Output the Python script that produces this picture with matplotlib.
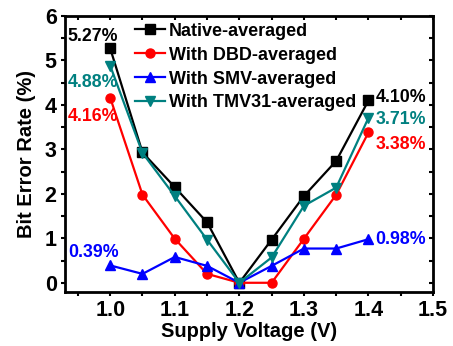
import matplotlib
matplotlib.use("Agg")
import matplotlib.pyplot as plt
from matplotlib.ticker import MultipleLocator

plt.rcParams['font.family'] = ['Liberation Sans', 'DejaVu Sans']
plt.rcParams['font.weight'] = 'bold'

voltage = [1.0, 1.05, 1.1, 1.15, 1.2, 1.25, 1.3, 1.35, 1.4]
native = [5.27, 2.93, 2.15, 1.36, 0.0, 0.97, 1.95, 2.74, 4.10]
dbd = [4.16, 1.98, 0.99, 0.20, 0.0, 0.0, 0.99, 1.98, 3.38]
smv = [0.39, 0.20, 0.58, 0.38, 0.0, 0.38, 0.77, 0.77, 0.98]
tmv = [4.88, 2.92, 1.95, 0.97, 0.0, 0.57, 1.73, 2.14, 3.71]
labels = ["Native-averaged", "With DBD-averaged", "With SMV-averaged", "With TMV31-averaged"]
colors = ["black", "#ff0000", "#0000ff", "#008080"]
markers = ["s", "o", "^", "v"]

fig = plt.figure(figsize=(4.53, 3.46), dpi=100)
ax = fig.add_axes([0.1435, 0.157, 0.956 - 0.1435, 0.954 - 0.157])

for ys, lab, c, m in zip([native, dbd, smv, tmv], labels, colors, markers):
    ax.plot(voltage, ys, color=c, marker=m, markersize=6.5, linewidth=1.6, label=lab)

ax.set_xlim(0.93, 1.5)
ax.set_ylim(-0.2, 6)
ax.xaxis.set_minor_locator(MultipleLocator(0.05))
ax.yaxis.set_major_locator(MultipleLocator(1))
ax.yaxis.set_minor_locator(MultipleLocator(0.5))
ax.set_xticks([1.0, 1.1, 1.2, 1.3, 1.4, 1.5])
ax.set_xticklabels(["1.0", "1.1", "1.2", "1.3", "1.4", "1.5"])
ax.tick_params(which='both', direction='out', length=3, width=1.5, labelsize=15.5, pad=3)
for s in ax.spines.values():
    s.set_linewidth(2)

ax2 = ax.secondary_xaxis('top')
ax2.set_xticks([1.0, 1.1, 1.2, 1.3, 1.4, 1.5])
ax2.xaxis.set_minor_locator(MultipleLocator(0.05))
ax2.tick_params(which='both', direction='in', length=3, width=1.5, labeltop=False)
ax3 = ax.secondary_yaxis('right')
ax3.yaxis.set_major_locator(MultipleLocator(1))
ax3.yaxis.set_minor_locator(MultipleLocator(0.5))
ax3.tick_params(which='both', direction='in', length=3, width=1.5, labelright=False)

ax.set_xlabel("Supply Voltage (V)", fontsize=14.5, fontweight='bold', labelpad=1)
ax.set_ylabel("Bit Error Rate (%)", fontsize=14.5, fontweight='bold', labelpad=6)

fs = 12.8
xl, xr = 0.9345, 1.411
ax.text(xl, 5.54, "5.27%", color="black", fontsize=fs, fontweight='bold', ha='left', va='center')
ax.text(xl, 4.50, "4.88%", color="#008080", fontsize=fs, fontweight='bold', ha='left', va='center')
ax.text(xl, 3.74, "4.16%", color="#ff0000", fontsize=fs, fontweight='bold', ha='left', va='center')
ax.text(xl, 0.68, "0.39%", color="#0000ff", fontsize=fs, fontweight='bold', ha='left', va='center')
ax.text(xr, 4.17, "4.10%", color="black", fontsize=fs, fontweight='bold', ha='left', va='center')
ax.text(xr, 3.67, "3.71%", color="#008080", fontsize=fs, fontweight='bold', ha='left', va='center')
ax.text(xr, 3.10, "3.38%", color="#ff0000", fontsize=fs, fontweight='bold', ha='left', va='center')
ax.text(xr, 0.98, "0.98%", color="#0000ff", fontsize=fs, fontweight='bold', ha='left', va='center')

leg = ax.legend(loc='upper left', bbox_to_anchor=(0.19, 0.975), frameon=False, fontsize=13,
                handlelength=1.67, handletextpad=0.2, labelspacing=0.38, borderaxespad=0, borderpad=0)

fig.savefig("out.png", dpi=100)
